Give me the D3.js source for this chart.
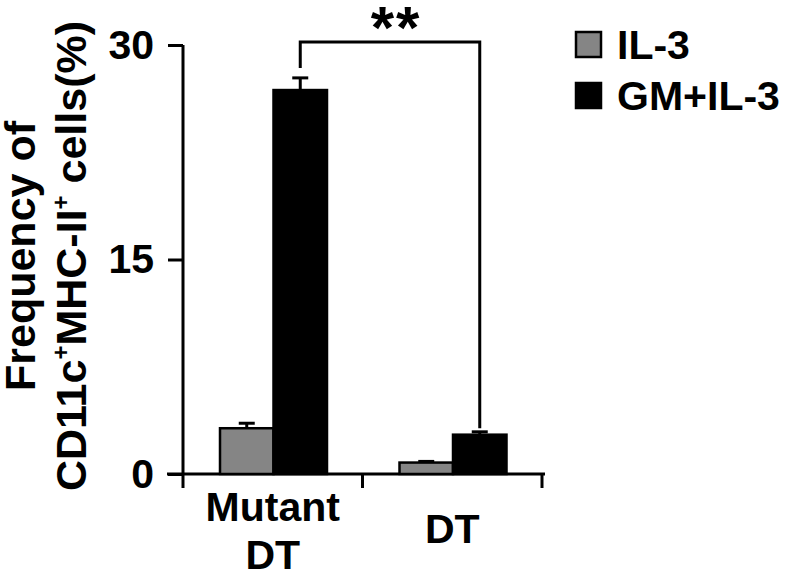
<!DOCTYPE html>
<html><head><meta charset="utf-8">
<script src="https://cdn.jsdelivr.net/npm/d3@7"></script>
<style>body{margin:0;background:#fff}svg{display:block}text{font-family:"Liberation Sans",Arial,sans-serif;font-weight:bold}</style>
</head><body><svg id="c" width="787" height="576"></svg>
<script>
const categories = [["Mutant","DT"],["DT"]];
const groupKeys = ["Mutant DT","DT"];
const seriesNames = ["IL-3","GM+IL-3"];
const il3 = [3.2, 0.8];
const il3Err = [0.35, 0.08];
const gmil3 = [26.85, 2.75];
const gmil3Err = [0.85, 0.2];
const yTicks = [0, 15, 30];
const colors = ["#858585", "#000000"];

const svg = d3.select("#c");
const x0 = d3.scaleBand().domain(groupKeys).range([183, 542]).paddingInner(0).paddingOuter(0);
const x1 = d3.scaleBand().domain(seriesNames).range([37, 144]).padding(0);
const y = d3.scaleLinear().domain([0, 30]).range([474, 45]);

// y axis
const yAxis = d3.axisLeft(y).tickValues(yTicks).tickSize(15).tickPadding(14);
const gy = svg.append("g").attr("transform","translate(183,0)").call(yAxis);
gy.select(".domain").attr("stroke","#000").attr("stroke-width",3).attr("d","M0,474V45");
gy.selectAll(".tick line").attr("stroke","#000").attr("stroke-width",3);
gy.selectAll(".tick text").attr("font-size",41).attr("fill","#000").attr("font-family","Liberation Sans, Arial, sans-serif");

// x axis
const xAxis = d3.axisBottom(x0).tickValues([]).tickSizeOuter(0);
const gx = svg.append("g").attr("transform","translate(0,474)").call(xAxis);
gx.select(".domain").attr("stroke","#000").attr("stroke-width",3).attr("d","M167,0H545");
const tickPos = [x0.range()[0], x0(groupKeys[1]), x0.range()[1]];
gx.selectAll(".xt").data(tickPos).join("line").attr("class","xt")
  .attr("x1",d=>d).attr("x2",d=>d).attr("y1",0).attr("y2",14).attr("stroke","#000").attr("stroke-width",3);

// x labels
categories.forEach((lines,i)=>{
  const cx = x0(groupKeys[i]) + x0.bandwidth()/2;
  const t = svg.append("text").attr("text-anchor","middle").attr("font-size",41).attr("fill","#000");
  if (lines.length === 2) {
    t.append("tspan").attr("x",cx).attr("y",521).text(lines[0]);
    t.append("tspan").attr("x",cx).attr("y",569).text(lines[1]);
  } else {
    t.append("tspan").attr("x",cx).attr("y",543).text(lines[0]);
  }
});

// bars
const data = groupKeys.map((g,i)=>[
  {g, s:seriesNames[0], v:il3[i], e:il3Err[i], c:colors[0]},
  {g, s:seriesNames[1], v:gmil3[i], e:gmil3Err[i], c:colors[1]}
]).flat();

// error bars (drawn behind bars)
const eg = svg.append("g");
data.forEach(d=>{
  const cx = x0(d.g) + x1(d.s) + x1.bandwidth()/2;
  eg.append("line").attr("x1",cx).attr("x2",cx).attr("y1",y(d.v)).attr("y2",y(d.v+d.e)).attr("stroke","#000").attr("stroke-width",3);
  eg.append("line").attr("x1",cx-8).attr("x2",cx+8).attr("y1",y(d.v+d.e)).attr("y2",y(d.v+d.e)).attr("stroke","#000").attr("stroke-width",3);
});

svg.append("g").selectAll("rect").data(data).join("rect")
  .attr("x",d=>x0(d.g)+x1(d.s))
  .attr("width",x1.bandwidth())
  .attr("y",d=>y(d.v))
  .attr("height",d=>y(0)-y(d.v))
  .attr("fill",d=>d.c).attr("stroke","#000").attr("stroke-width",2.5);

// significance bracket
const b1 = x0(groupKeys[0]) + x1(seriesNames[1]) + x1.bandwidth()/2;
const b2 = x0(groupKeys[1]) + x1(seriesNames[1]) + x1.bandwidth()/2;
const topY = 42;
svg.append("path").attr("fill","none").attr("stroke","#000").attr("stroke-width",3)
  .attr("d",`M${b1},${y(gmil3[0]+gmil3Err[0])-10}V${topY}H${b2}V${y(il3[0]+il3Err[0])+5}`);
svg.append("text").attr("x",(b1+b2)/2+6).attr("y",48).attr("text-anchor","middle").attr("font-size",60).attr("letter-spacing",2).attr("fill","#000").text("**");

// legend
const leg = svg.append("g");
seriesNames.forEach((s,i)=>{
  const yy = 32 + i*51;
  leg.append("rect").attr("x",576).attr("y",yy).attr("width",25).attr("height",25).attr("fill",colors[i]).attr("stroke","#000").attr("stroke-width",2.5);
  leg.append("text").attr("x",617).attr("y",yy+27).attr("font-size",41).attr("fill","#000").text(s);
});

// y label
const yl = svg.append("text").attr("transform","translate(0,256) rotate(-90)").attr("text-anchor","middle").attr("font-size",43).attr("fill","#000");
yl.append("tspan").attr("x",0).attr("y",35).text("Frequency of");
const l2 = yl.append("tspan").attr("x",0).attr("y",86);
l2.text("CD11c");
yl.append("tspan").attr("font-size",24).attr("dy",-17).text("+");
yl.append("tspan").attr("dy",17).text("MHC-II");
yl.append("tspan").attr("font-size",24).attr("dy",-17).text("+");
yl.append("tspan").attr("dy",17).text(" cells(%)");
</script></body></html>
